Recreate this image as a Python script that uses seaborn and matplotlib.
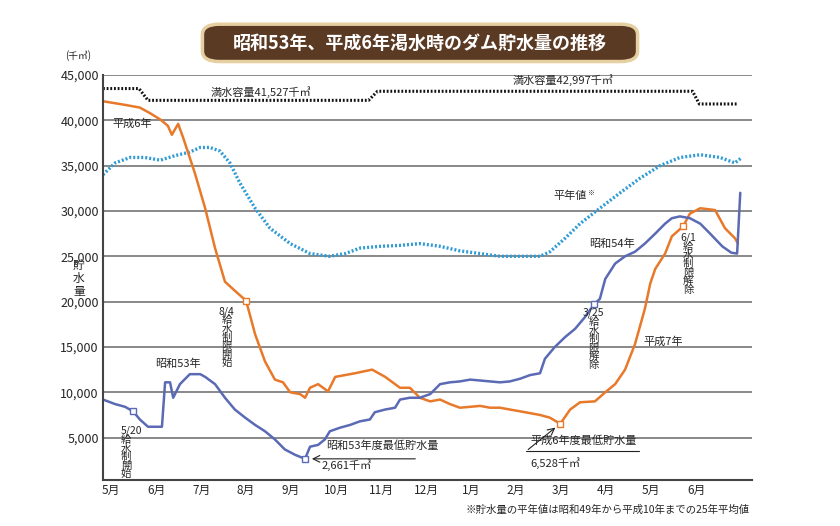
import matplotlib
matplotlib.use("Agg")
import matplotlib.pyplot as plt
import seaborn as sns
import pandas as pd
from matplotlib.patches import FancyBboxPatch

sns.set_theme(style="white")
plt.rcParams['font.family'] = ['Noto Sans CJK JP', 'DejaVu Sans']

months = ["5月", "6月", "7月", "8月", "9月", "10月", "11月", "12月", "1月", "2月", "3月", "4月", "5月", "6月"]
yticks = [5000, 10000, 15000, 20000, 25000, 30000, 35000, 40000, 45000]

h6_x = [0, 0.49, 0.82, 1.04, 1.27, 1.44, 1.53, 1.67, 1.78, 2.04, 2.27, 2.49, 2.71, 2.93, 3.18, 3.38, 3.6, 3.82, 4.0, 4.16,
        4.38, 4.49, 4.6, 4.78, 5.0, 5.16, 5.6, 5.98, 6.27, 6.6, 6.82, 7.04, 7.27, 7.49, 7.71, 7.93, 8.16, 8.38, 8.6, 8.82,
        9.04, 9.27, 9.49, 9.71, 9.93, 10.16, 10.38, 10.6, 10.93, 11.16, 11.38, 11.6, 11.82, 12.04, 12.16, 12.27, 12.49,
        12.64, 12.89, 13.04, 13.27, 13.6, 13.82, 14.04, 14.11]
h6_y = [42100, 41700, 41400, 40800, 40100, 39400, 38400, 39600, 38100, 34200, 30300, 25900, 22200, 21200, 20100, 16400,
        13400, 11400, 11100, 10000, 9800, 9400, 10500, 10900, 10100, 11700, 12100, 12500, 11700, 10500, 10500, 9400, 9000,
        9200, 8700, 8300, 8400, 8500, 8300, 8300, 8100, 7900, 7700, 7500, 7200, 6528, 8100, 8900, 9000, 10000, 10900, 12500,
        15300, 19200, 22000, 23600, 25300, 27200, 28300, 29700, 30300, 30100, 28100, 27000, 26400]

s53_x = [0, 0.27, 0.49, 0.67, 0.82, 1.0, 1.31, 1.38, 1.49, 1.56, 1.71, 1.93, 2.16, 2.27, 2.49, 2.71, 2.93, 3.16, 3.38, 3.6,
         3.82, 4.04, 4.27, 4.49, 4.6, 4.78, 4.93, 5.04, 5.27, 5.49, 5.71, 5.93, 6.04, 6.27, 6.49, 6.6, 6.82, 7.04, 7.27,
         7.49, 7.71, 7.93, 8.16, 8.38, 8.6, 8.82, 9.04, 9.27, 9.49, 9.71, 9.82, 10.04, 10.27, 10.49, 10.71, 10.91, 11.04,
         11.16, 11.38, 11.6, 11.82, 12.04, 12.27, 12.49, 12.64, 12.82, 13.04, 13.27, 13.49, 13.76, 13.96, 14.09, 14.16]
s53_y = [9200, 8700, 8400, 7900, 7000, 6200, 6200, 11100, 11100, 9400, 10900, 12000, 12000, 11700, 10900, 9400, 8100,
         7200, 6400, 5700, 4800, 3700, 3100, 2661, 4000, 4200, 4800, 5700, 6100, 6400, 6800, 7000, 7800, 8100, 8300, 9200,
         9400, 9400, 9800, 10900, 11100, 11200, 11400, 11300, 11200, 11100, 11200, 11500, 11900, 12100, 13700, 15000,
         16100, 17000, 18300, 19700, 20300, 22500, 24200, 25000, 25500, 26400, 27500, 28600, 29200, 29400, 29200, 28600,
         27500, 26100, 25400, 25300, 32000]

avg_x = [0, 0.27, 0.6, 0.93, 1.27, 1.6, 1.93, 2.16, 2.38, 2.6, 2.82, 3.04, 3.38, 3.71, 4.16, 4.6, 5.04, 5.38, 5.71, 6.16,
         6.6, 7.04, 7.49, 7.93, 8.38, 8.82, 9.27, 9.71, 9.93, 10.27, 10.6, 11.04, 11.49, 11.93, 12.38, 12.82, 13.27, 13.71,
         14.04, 14.2]
avg_y = [34000, 35300, 35900, 35900, 35600, 36100, 36500, 37000, 37000, 36600, 35300, 33100, 30300, 28100, 26400, 25300,
         25000, 25300, 25900, 26100, 26200, 26400, 26100, 25600, 25300, 25000, 25000, 25000, 25500, 27000, 28600, 30300,
         32000, 33600, 35000, 35900, 36200, 35900, 35300, 35900]

cap_x = [0, 0.8, 1.0, 5.9, 6.1, 13.1, 13.25, 14.1]
cap_y = [43500, 43500, 42200, 42200, 43200, 43200, 41800, 41800]

fig = plt.figure(figsize=(8.4, 5.26), dpi=100)
fig.patch.set_facecolor("white")
ax = fig.add_axes([0.1226, 0.0875, 0.7726, 0.77])

sns.lineplot(x=cap_x, y=cap_y, ax=ax, color="#111111", lw=2.2, linestyle=(0, (0.6, 0.6)))
sns.lineplot(x=avg_x, y=avg_y, ax=ax, color="#2f9bd6", lw=2.4, linestyle=(0, (0.6, 0.6)))
sns.lineplot(x=h6_x, y=h6_y, ax=ax, color="#e8792a", lw=1.8)
sns.lineplot(x=s53_x, y=s53_y, ax=ax, color="#5a6ab4", lw=1.8)

ax.set_xlim(0, 14.42)
ax.set_ylim(330, 45000)
ax.set_yticks(yticks)
ax.set_yticklabels([f"{v:,}" for v in yticks], fontsize=9)
ax.set_xticks([i + 0.18 for i in range(len(months))])
ax.set_xticklabels(months, fontsize=8.5)
ax.tick_params(length=0, pad=3)
ax.grid(axis="y", color="#888888", lw=1.4)
for s in ["top", "right"]:
    ax.spines[s].set_visible(False)
for s in ["left", "bottom"]:
    ax.spines[s].set_color("#444444")
    ax.spines[s].set_linewidth(1.5)

mk = dict(marker="s", ms=5, mfc="white", ls="none")
ax.plot([3.18], [20100], mec="#e8792a", **mk)
ax.plot([10.16], [6528], mec="#e8792a", **mk)
ax.plot([12.89], [28300], mec="#e8792a", **mk)
ax.plot([0.67], [7900], mec="#5a6ab4", **mk)
ax.plot([4.49], [2661], mec="#5a6ab4", **mk)
ax.plot([10.91], [19700], mec="#5a6ab4", **mk)

fs = 8
vfs = 7.5
vls = 0.82
ax.text(2.4, 42700, "満水容量41,527千㎥", fontsize=fs)
ax.text(9.1, 44000, "満水容量42,997千㎥", fontsize=fs)
ax.text(0.2, 39300, "平成6年", fontsize=fs)
ax.text(10.0, 31300, "平年値", fontsize=fs)
ax.text(10.75, 31800, "※", fontsize=5)
ax.text(10.8, 26000, "昭和54年", fontsize=fs)
ax.text(12.0, 15200, "平成7年", fontsize=fs)
ax.text(1.15, 12800, "昭和53年", fontsize=fs)
ax.text(0.4, 6300, "5/20\n給\n水\n制\n開\n始", fontsize=vfs, va="top", linespacing=vls)
ax.text(2.75, 19500, "8/4\n給\n水\n制\n限\n開\n始", fontsize=vfs, va="top", ha="center", linespacing=vls)
ax.text(10.9, 19300, "3/25\n給\n水\n制\n限\n解\n除", fontsize=vfs, va="top", ha="center", linespacing=vls)
ax.text(13.0, 27600, "6/1\n給\n水\n制\n限\n解\n除", fontsize=vfs, va="top", ha="center", linespacing=vls)
ax.text(4.95, 3700, "昭和53年度最低貯水量", fontsize=fs)
ax.text(4.85, 1500, "2,661千㎥", fontsize=fs)
ax.annotate("", xy=(4.58, 2661), xytext=(7.0, 2661),
            arrowprops=dict(arrowstyle="->", color="#222222", lw=0.8))
ax.text(9.5, 4300, "平成6年度最低貯水量", fontsize=fs)
ax.text(9.5, 1800, "6,528千㎥", fontsize=fs)
ax.plot([9.4, 11.9], [3500, 3500], color="#222222", lw=0.8)
ax.annotate("", xy=(10.1, 6300), xytext=(9.4, 3500),
            arrowprops=dict(arrowstyle="->", color="#222222", lw=0.8))

fig.text(0.077, 0.888, "(千㎥)", fontsize=7)
fig.text(0.094, 0.44, "貯\n水\n量", fontsize=8.5, ha="center", linespacing=1.0)
fig.text(0.893, 0.025, "※貯水量の平年値は昭和49年から平成10年までの25年平均値", fontsize=7.5, ha="right")

title_box = FancyBboxPatch((0.245, 0.887), 0.51, 0.063, boxstyle="round,pad=0.004,rounding_size=0.02",
                           transform=fig.transFigure, facecolor="#5b3a24", edgecolor="#e6cfa0", lw=2.5)
fig.patches.append(title_box)
fig.text(0.5, 0.918, "昭和53年、平成6年渇水時のダム貯水量の推移", color="white", fontsize=13,
         fontweight="bold", ha="center", va="center")

fig.savefig("out.png", dpi=100)
